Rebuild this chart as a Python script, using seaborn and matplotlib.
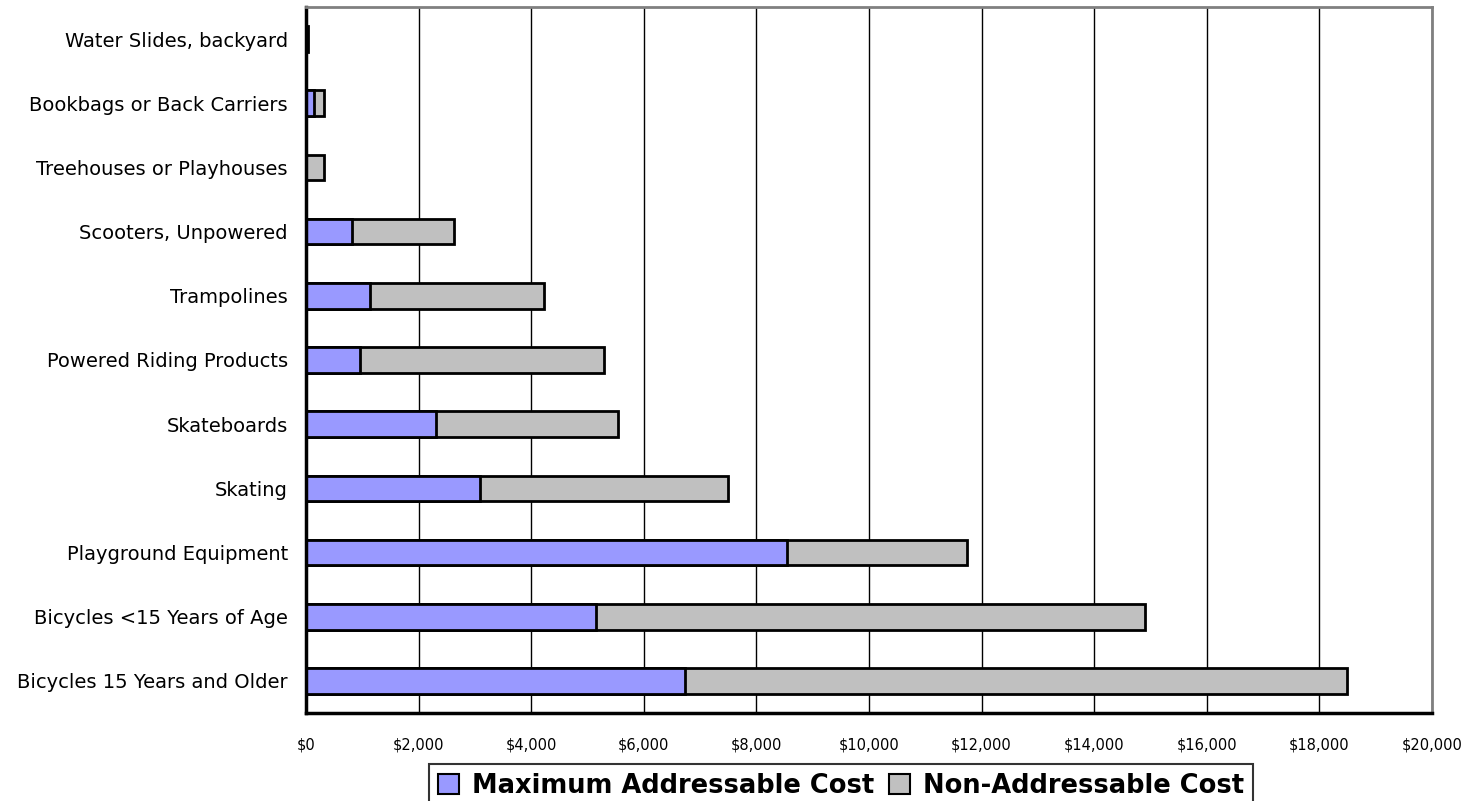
import numpy as np
import pandas as pd
import matplotlib
matplotlib.use("Agg")
import matplotlib.pyplot as plt
import seaborn as sns
from matplotlib.patches import Patch
from matplotlib.ticker import FuncFormatter, MultipleLocator

# chart data (top to bottom as drawn)
categories = [
    "Water Slides, backyard",
    "Bookbags or Back Carriers",
    "Treehouses or Playhouses",
    "Scooters, Unpowered",
    "Trampolines",
    "Powered Riding Products",
    "Skateboards",
    "Skating",
    "Playground Equipment",
    "Bicycles <15 Years of Age",
    "Bicycles 15 Years and Older",
]
max_addressable = [0, 135, 0, 820, 1140, 955, 2310, 3090, 8545, 5145, 6740]
non_addressable = [30, 190, 325, 1810, 3090, 4330, 3230, 4400, 3200, 9760, 11750]
series_names = ["Maximum Addressable Cost", "Non-Addressable Cost"]

PURPLE = "#9999FF"
GRAY = "#C0C0C0"

df = pd.DataFrame({
    "category": categories,
    "addressable": max_addressable,
    "total": np.array(max_addressable) + np.array(non_addressable),
})

sns.set_style("white")
plt.rcParams["font.family"] = ["DejaVu Sans"]
plt.rcParams["text.color"] = "black"
plt.rcParams["xtick.color"] = "black"
plt.rcParams["ytick.color"] = "black"

fig = plt.figure(figsize=(14.72, 8.01), dpi=100)
ax = fig.add_axes([306 / 1472, 1 - 713 / 801, (1432 - 306) / 1472, (713 - 7) / 801])

# stacked: total first (gray), addressable on top (purple)
sns.barplot(data=df, x="total", y="category", order=categories, color=GRAY,
            edgecolor="black", linewidth=2, width=0.4, saturation=1, ax=ax)
sns.barplot(data=df, x="addressable", y="category", order=categories, color=PURPLE,
            edgecolor="black", linewidth=2, width=0.4, saturation=1, ax=ax)

ax.set_xlim(0, 20000)
ax.set_ylim(len(categories) - 0.5, -0.5)
ax.xaxis.set_major_locator(MultipleLocator(2000))
ax.xaxis.set_major_formatter(FuncFormatter(lambda v, p: f"${v:,.0f}"))
ax.set_xlabel("")
ax.set_ylabel("")

ax.grid(axis="x", color="black", linewidth=1)
ax.set_axisbelow(True)

# y ticks sit between categories
ax.set_yticks(np.arange(len(categories)))
ax.set_yticks(np.arange(-0.5, len(categories), 1), minor=True)
ax.tick_params(axis="y", which="major", length=0, pad=13, labelsize=14)
ax.tick_params(axis="y", which="minor", length=8, width=2, color="black", direction="out")
ax.tick_params(axis="x", length=5, width=2, color="black", direction="out", labelsize=10.5, pad=13)

for side in ["left", "bottom"]:
    ax.spines[side].set_color("black")
    ax.spines[side].set_linewidth(2.5)
for side in ["top", "right"]:
    ax.spines[side].set_color("#808080")
    ax.spines[side].set_linewidth(2)

handles = [Patch(facecolor=PURPLE, edgecolor="black", linewidth=1.5),
           Patch(facecolor=GRAY, edgecolor="black", linewidth=1.5)]
leg = fig.legend(handles, series_names, loc="upper center",
                 bbox_to_anchor=(841 / 1472, 1 - 764 / 801), ncol=2,
                 frameon=True, fancybox=False, edgecolor="black",
                 prop={"weight": "bold", "size": 18.5},
                 handlelength=0.8, handleheight=0.8, handletextpad=0.5,
                 columnspacing=0.6, borderpad=0.35, borderaxespad=0)
leg.get_frame().set_linewidth(1.5)

fig.savefig("out.png", dpi=100)
